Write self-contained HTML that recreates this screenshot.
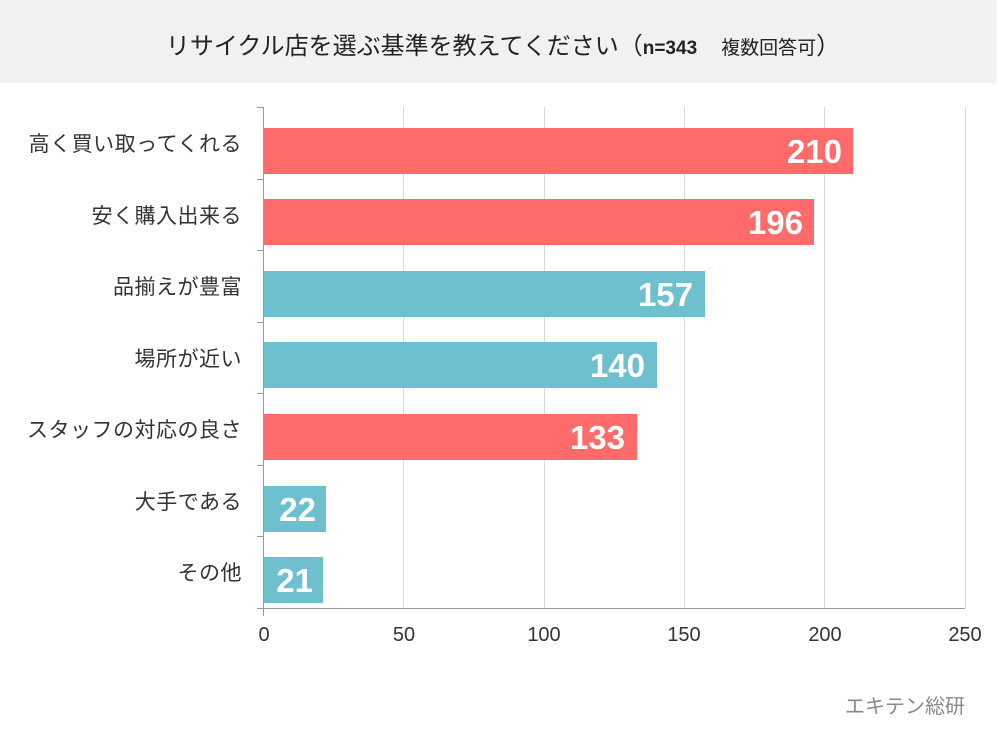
<!DOCTYPE html>
<html><head><meta charset="utf-8"><style>
body{margin:0;width:1006px;height:730px;background:#fff;font-family:"Liberation Sans","Noto Sans CJK JP",sans-serif;position:relative;overflow:hidden}
.hdr{position:absolute;left:0;top:0;width:996px;height:83px;background:#f1f1f1}
.t{position:absolute;top:26px;left:0;width:1006px;text-align:center;font-size:24px;color:#222}
.lab{position:absolute;right:764px;font-size:21px;color:#333;white-space:nowrap;letter-spacing:0.5px}
.tk{position:absolute;top:624px;font-size:20px;color:#333;width:60px;text-align:center;margin-left:-30px}
</style></head><body>
<div class="hdr"></div>
<div class="t">リサイクル店を選ぶ基準を教えてください（<span style="font-size:19px;font-weight:bold">n=343</span>　<span style="font-size:19px">複数回答可</span>）</div>
<svg width="1006" height="730" style="position:absolute;left:0;top:0">
<g stroke="#d9d9d9" stroke-width="1">
<line x1="403.5" y1="107" x2="403.5" y2="608"/><line x1="544.5" y1="107" x2="544.5" y2="608"/><line x1="684.5" y1="107" x2="684.5" y2="608"/><line x1="824.5" y1="107" x2="824.5" y2="608"/><line x1="965.5" y1="107" x2="965.5" y2="608"/>
</g>
<g stroke="#999" stroke-width="1">
<line x1="263.5" y1="107" x2="263.5" y2="616"/>
<line x1="257" y1="608.5" x2="965" y2="608.5"/>
<line x1="257" y1="107.5" x2="263" y2="107.5"/><line x1="257" y1="179.5" x2="263" y2="179.5"/><line x1="257" y1="250.5" x2="263" y2="250.5"/><line x1="257" y1="322.5" x2="263" y2="322.5"/><line x1="257" y1="393.5" x2="263" y2="393.5"/><line x1="257" y1="465.5" x2="263" y2="465.5"/><line x1="257" y1="536.5" x2="263" y2="536.5"/>
</g>
<g font-family="Liberation Sans,sans-serif" font-weight="bold" font-size="33" fill="#fff" text-anchor="end">
<rect x="264" y="128" width="589" height="46" fill="#ff6b6b"/><text x="842" y="163">210</text>
<rect x="264" y="199" width="550" height="46" fill="#ff6b6b"/><text x="803" y="234">196</text>
<rect x="264" y="271" width="441" height="46" fill="#6fc0ce"/><text x="693" y="306">157</text>
<rect x="264" y="342" width="393" height="46" fill="#6fc0ce"/><text x="645" y="377">140</text>
<rect x="264" y="414" width="373" height="46" fill="#ff6b6b"/><text x="625" y="449">133</text>
<rect x="264" y="486" width="62" height="46" fill="#6fc0ce"/><text x="316" y="521">22</text>
<rect x="264" y="557" width="59" height="46" fill="#6fc0ce"/><text x="313" y="592">21</text>
</g>
</svg>
<div class="lab" style="top:128px">高く買い取ってくれる</div>
<div class="lab" style="top:200px">安く購入出来る</div>
<div class="lab" style="top:271px">品揃えが豊富</div>
<div class="lab" style="top:343px">場所が近い</div>
<div class="lab" style="top:414px">スタッフの対応の良さ</div>
<div class="lab" style="top:486px">大手である</div>
<div class="lab" style="top:557px">その他</div>
<div class="tk" style="left:264px">0</div><div class="tk" style="left:404px">50</div><div class="tk" style="left:544px">100</div><div class="tk" style="left:684px">150</div><div class="tk" style="left:825px">200</div><div class="tk" style="left:965px">250</div>
<div style="position:absolute;left:845px;top:690px;font-size:20px;color:#888">エキテン総研</div>
</body></html>
